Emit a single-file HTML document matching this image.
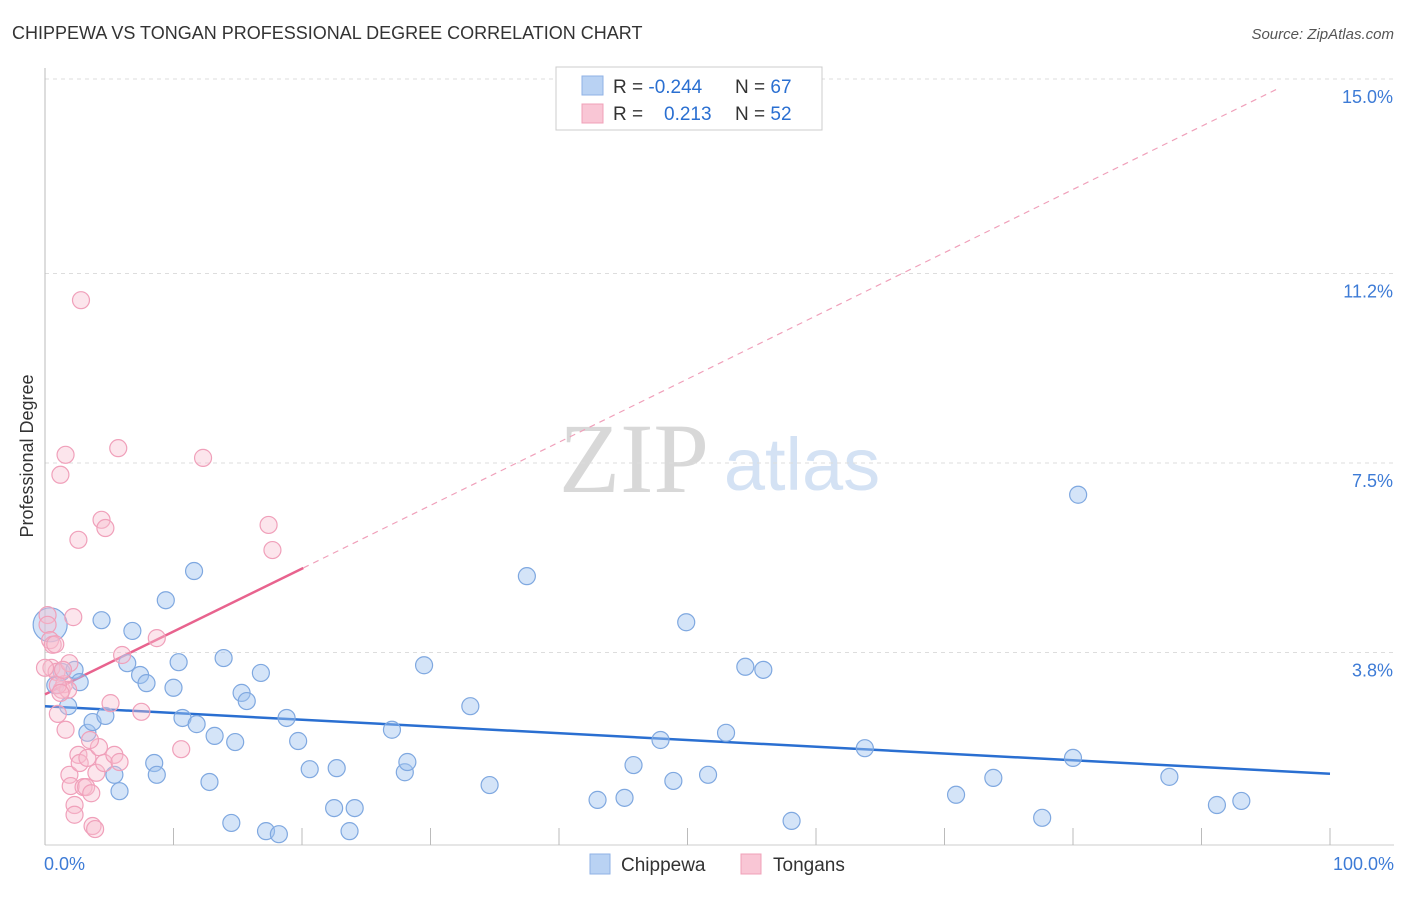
<!DOCTYPE html>
<html><head><meta charset="utf-8">
<style>
body{margin:0;background:#fff;font-family:"Liberation Sans",sans-serif;}
</style></head>
<body>
<svg id="chart" width="1406" height="892" xmlns="http://www.w3.org/2000/svg" font-family="Liberation Sans, sans-serif">
<text x="12" y="39" font-size="18" fill="#333">CHIPPEWA VS TONGAN PROFESSIONAL DEGREE CORRELATION CHART</text>
<text x="1394" y="39" font-size="15" fill="#555" text-anchor="end" font-style="italic">Source: ZipAtlas.com</text>
<text x="33" y="456" font-size="18" fill="#333" text-anchor="middle" transform="rotate(-90 33 456)">Professional Degree</text>
<g>
<text x="634" y="492" font-size="100" fill="#d8d8d8" text-anchor="middle" style="font-family:'Liberation Serif',serif">ZIP</text>
<text x="802" y="490" font-size="74" fill="#d4e2f4" text-anchor="middle">atlas</text>
</g>
<g id="grid"></g>
<g id="axes"></g>
<g id="trends"></g>
<g id="points"></g>
<g>
<rect x="556" y="67" width="266" height="63" fill="#fff" stroke="#ccc"/>
<rect x="582" y="76" width="21" height="19" fill="#b9d2f3" stroke="#8fb2e6"/>
<rect x="582" y="104" width="21" height="19" fill="#f9c6d5" stroke="#f0a0b8"/>
<text x="613" y="93" font-size="19" fill="#333">R = <tspan fill="#2a6fd1">-0.244</tspan></text>
<text x="735" y="93" font-size="19" fill="#333">N = <tspan fill="#2a6fd1">67</tspan></text>
<text x="613" y="120" font-size="19" fill="#333">R = </text>
<text x="664" y="120" font-size="19" fill="#2a6fd1">0.213</text>
<text x="735" y="120" font-size="19" fill="#333">N = <tspan fill="#2a6fd1">52</tspan></text>
</g>
<g>
<rect x="590" y="854" width="20" height="20" fill="#b9d2f3" stroke="#8fb2e6"/>
<text x="621" y="871" font-size="19" fill="#333">Chippewa</text>
<rect x="741" y="854" width="20" height="20" fill="#f9c6d5" stroke="#f0a0b8"/>
<text x="773" y="871" font-size="19" fill="#333">Tongans</text>
</g>
</svg>
<script>
const yTicks=[15.0,11.2,7.5,3.8];
const yTickLabels=["15.0%","11.2%","7.5%","3.8%"];
const xTicks=[0,10,20,30,40,50,60,70,80,90,100];
const xEndLabels=["0.0%","100.0%"];
const chippewaX=[0.4,0.8,1.3,2.3,2.7,1.8,3.3,3.7,4.4,4.7,5.4,5.8,6.4,6.8,7.4,7.9,8.5,8.7,9.4,10.0,10.4,10.7,11.6,11.8,12.8,13.2,13.9,14.5,14.8,15.3,15.7,16.8,17.2,18.2,18.8,19.7,20.6,22.5,22.7,23.7,24.1,27.0,28.0,28.2,29.5,33.1,34.6,37.5,43.0,45.1,45.8,47.9,48.9,49.9,51.6,53.0,54.5,55.9,58.1,63.8,70.9,73.8,77.6,80.0,80.4,87.5,91.2,93.1];
const chippewaY=[4.34,3.16,3.42,3.46,3.22,2.75,2.23,2.44,4.43,2.56,1.41,1.09,3.59,4.22,3.36,3.20,1.64,1.41,4.82,3.11,3.61,2.52,5.39,2.40,1.27,2.17,3.69,0.47,2.05,3.01,2.85,3.40,0.31,0.25,2.52,2.07,1.52,0.76,1.54,0.31,0.76,2.29,1.46,1.66,3.55,2.75,1.21,5.29,0.92,0.96,1.60,2.09,1.29,4.39,1.41,2.23,3.52,3.46,0.51,1.93,1.02,1.35,0.57,1.74,6.88,1.37,0.82,0.90];
const tonganX=[0.2,0.2,0.4,0.5,0.6,0.8,0.9,1.0,1.2,1.3,1.5,1.6,1.6,1.8,1.9,1.9,2.0,2.2,2.3,2.3,2.6,2.6,2.7,2.8,3.0,3.2,3.3,3.6,3.7,3.9,4.0,4.2,4.4,4.6,4.7,5.1,5.4,5.7,5.8,6.0,7.5,8.7,10.6,12.3,17.4,17.7,0.0,1.0,1.2,3.5,1.4];
const tonganY=[4.53,4.34,4.04,3.50,3.95,3.96,3.42,2.60,7.27,3.07,3.18,2.29,7.66,3.07,3.59,1.41,1.19,4.49,0.82,0.63,6.00,1.80,1.64,10.68,1.17,1.17,1.74,1.05,0.41,0.35,1.45,1.95,6.39,1.64,6.23,2.81,1.80,7.79,1.66,3.75,2.64,4.08,1.91,7.60,6.29,5.80,3.50,3.16,3.01,2.09,3.46];
const chippewaTrend=[2.75,1.43];
const tonganTrend=[2.98,5.45,14.83];
const tonganTrendX=[0,20.1,96.1];

const NS="http://www.w3.org/2000/svg";
const xS=v=>45+v*12.85;
const yS=v=>847-v*51.2;
function mk(tag,attrs,parent){const e=document.createElementNS(NS,tag);for(const k in attrs)e.setAttribute(k,attrs[k]);document.getElementById(parent).appendChild(e);return e;}

yTicks.forEach((t,i)=>{
 const l=mk('line',{x1:45,x2:1394,y1:yS(t),y2:yS(t),stroke:'#ddd','stroke-dasharray':'4,4'},'grid');
 
 
 const tx=mk('text',{x:1393,y:yS(t)+24,'font-size':18,fill:'#3d7bd6','text-anchor':'end'},'grid');
 tx.textContent=yTickLabels[i];
 
 
});
const ax=mk('line',{x1:45,x2:45,y1:68,y2:845,stroke:'#bbb'},'axes');


const bx=mk('line',{x1:45,x2:1394,y1:845,y2:845,stroke:'#ccc'},'axes');


xTicks.forEach(t=>{
 const l=mk('line',{x1:xS(t),x2:xS(t),y1:828,y2:845,stroke:'#bbb'},'axes');
 
 
});
[[0,'start',44],[100,'end',1394]].forEach((d,i)=>{
 const tx=mk('text',{x:d[2],y:870,'font-size':18,fill:'#3d7bd6','text-anchor':d[1]},'axes');
 tx.textContent=xEndLabels[i];
 
 
});

chippewaX.forEach((x,i)=>{
 const r=(i===0)?17:8.5;
 const c=mk('circle',{cx:xS(x),cy:yS(chippewaY[i]),r:r,fill:'rgba(160,195,240,0.45)',stroke:'#7fa8e0','stroke-width':1.2},'points');
 
 
});
tonganX.forEach((x,i)=>{
 const c=mk('circle',{cx:xS(x),cy:yS(tonganY[i]),r:8.5,fill:'rgba(248,190,208,0.4)',stroke:'#f0a0ba','stroke-width':1.2},'points');
 
 
});

const bl=mk('line',{x1:xS(0),x2:xS(100),y1:yS(chippewaTrend[0]),y2:yS(chippewaTrend[1]),stroke:'#2a6fd1','stroke-width':2.5},'trends');


const pl=mk('line',{x1:xS(tonganTrendX[0]),x2:xS(tonganTrendX[1]),y1:yS(tonganTrend[0]),y2:yS(tonganTrend[1]),stroke:'#e8638e','stroke-width':2.5},'trends');


const pd=mk('line',{x1:xS(tonganTrendX[1]),x2:xS(tonganTrendX[2]),y1:yS(tonganTrend[1]),y2:yS(tonganTrend[2]),stroke:'#f0a0ba','stroke-width':1.2,'stroke-dasharray':'6,5'},'trends');


</script>
</body></html>
